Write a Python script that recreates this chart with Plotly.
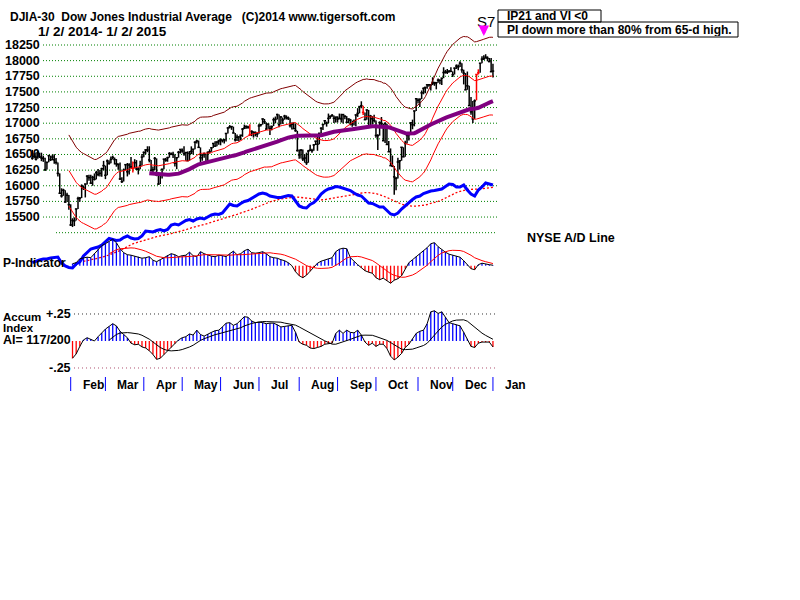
import pandas as pd
import plotly.graph_objects as go

# ---------------- DATA ----------------
close = [16441,16470,16425,16530,16462,16444,16437,16257,16374,16482,
 16418,16459,16415,16374,16198,15880,15838,15929,15739,15849,
 15699,15373,15445,15441,15629,15795,15802,15995,15964,16028,
 16154,16130,16041,16134,16104,16208,16180,16199,16273,16322,
 16168,16396,16361,16422,16453,16419,16351,16341,16109,16066,
 16248,16337,16223,16332,16303,16277,16368,16268,16264,16323,
 16458,16533,16573,16572,16413,16246,16256,16437,16171,16027,
 16174,16263,16425,16409,16449,16514,16502,16501,16361,16448,
 16535,16581,16558,16513,16531,16401,16518,16551,16584,16695,
 16715,16614,16447,16491,16511,16374,16533,16543,16606,16676,
 16633,16698,16717,16743,16722,16738,16836,16924,16944,16946,
 16844,16735,16776,16781,16808,16906,16921,16947,16937,16818,
 16868,16846,16851,16827,16956,16976,17068,17024,16906,16985,
 16915,16944,17055,17061,17138,16977,17100,17052,17113,17087,
 17083,16961,16983,16913,16881,16563,16493,16569,16429,16443,
 16369,16554,16570,16561,16652,16713,16663,16839,16919,16979,
 17039,17001,17077,17107,17122,17079,17098,17067,17078,17069,
 17138,17111,17014,17068,17049,16988,17032,17132,17157,17266,
 17280,17173,17056,17211,16946,17113,17071,17043,16804,16801,
 17009,16992,16720,16994,16660,16544,16321,16316,16142,16117,
 16380,16400,16615,16462,16677,16805,16818,17006,16975,17196,
 17391,17366,17384,17485,17555,17573,17614,17615,17612,17652,
 17635,17648,17688,17686,17720,17810,17818,17815,17828,17828,
 17777,17880,17913,17900,17959,17853,17801,17533,17597,17281,
 17181,17069,17357,17779,17805,17959,18024,18030,18054,18038,
 17984,17823,17833]

high = [16573,16518,16532,16562,16528,16529,16481,16446,16384,16492,
 16481,16497,16505,16445,16373,16198,15960,15952,15929,15889,
 15852,15704,15481,15494,15634,15825,15821,16022,16005,16029,
 16167,16177,16176,16159,16197,16239,16268,16251,16289,16398,
 16322,16420,16407,16467,16482,16452,16427,16356,16371,16135,
 16275,16342,16364,16361,16461,16387,16425,16410,16294,16400,
 16508,16546,16582,16631,16631,16413,16307,16459,16437,16166,
 16196,16273,16430,16445,16464,16538,16532,16544,16501,16458,
 16557,16581,16594,16632,16532,16549,16555,16630,16584,16711,
 16736,16723,16613,16496,16532,16511,16549,16583,16617,16680,
 16710,16713,16735,16747,16740,16738,16845,16934,16970,16950,
 16945,16844,16821,16786,16810,16922,16978,16963,16959,16984,
 16886,16872,16867,16853,16993,16984,17074,17068,17014,16994,
 16965,16964,17089,17107,17151,17140,17113,17091,17134,17125,
 17107,17078,17011,17014,16989,16878,16579,16586,16580,16504,
 16529,16573,16654,16592,16669,16716,16815,16840,16936,16987,
 17052,17026,17154,17124,17147,17122,17100,17111,17154,17151,
 17138,17128,17113,17071,17069,17041,17061,17138,17240,17269,
 17350,17280,17173,17218,17211,17133,17113,17136,17043,16824,
 17029,17099,16991,17014,16992,16715,16597,16483,16315,16140,
 16448,16411,16615,16615,16721,16820,16820,17008,17057,17198,
 17395,17395,17392,17523,17573,17576,17614,17625,17614,17734,
 17662,17658,17715,17700,17723,17894,17852,17866,17851,17895,
 17828,17889,17940,17940,17992,17957,17855,17801,17826,17597,
 17418,17355,17380,17779,17861,17959,18069,18086,18103,18069,
 18043,18044,17951]

low = [16416,16439,16405,16430,16444,16393,16382,16237,16260,16376,
 16395,16406,16352,16340,16150,15873,15811,15839,15733,15743,
 15617,15357,15340,15356,15443,15630,15743,15803,15932,15813,
 16021,16080,16040,16000,16084,16102,16154,16147,16143,16246,
 16106,16169,16336,16361,16421,16339,16305,16255,16094,16045,
 16068,16247,16149,16180,16284,16212,16278,16253,16181,16264,
 16324,16457,16503,16537,16374,16227,16190,16253,16153,16015,
 16027,16115,16263,16384,16384,16449,16492,16445,16307,16265,
 16449,16514,16526,16480,16398,16397,16401,16506,16498,16584,
 16675,16605,16371,16400,16446,16353,16374,16515,16543,16606,
 16626,16633,16657,16647,16692,16676,16709,16836,16917,16894,
 16838,16707,16715,16707,16730,16782,16906,16910,16910,16797,
 16793,16770,16790,16775,16831,16947,16977,16988,16893,16910,
 16812,16887,16954,16998,17059,16936,16983,16989,17056,17059,
 17050,16933,16898,16912,16863,16547,16433,16437,16395,16369,
 16333,16368,16554,16527,16561,16651,16559,16663,16839,16893,
 16979,16945,17002,17071,17103,17003,17013,17010,17061,17013,
 16995,17065,17006,16998,16965,16945,16963,16952,17101,17157,
 17239,17130,17054,17055,16938,16946,16979,17013,16769,16572,
 16801,16954,16717,16683,16660,16538,16321,16298,15855,15930,
 16118,16259,16400,16460,16464,16677,16725,16818,16903,16950,
 17196,17313,17260,17385,17462,17479,17550,17582,17524,17610,
 17597,17541,17646,17621,17610,17720,17792,17785,17811,17821,
 17738,17778,17867,17847,17900,17807,17620,17531,17534,17280,
 17136,17005,17069,17365,17779,17806,17960,18011,18031,17990,
 17983,17820,17731]

red_bars = [55, 119, 181, 243, 244]

month_labels = ["Feb", "Mar", "Apr", "May", "Jun", "Jul", "Aug", "Sep", "Oct", "Nov", "Dec", "Jan"]
month_start = [21, 40, 61, 82, 103, 124, 146, 167, 188, 211, 230, 252]

price_ticks = [18250, 18000, 17750, 17500, 17250, 17000, 16750, 16500, 16250, 16000, 15750, 15500]
price_tick_labels = ["18250", "18000", "17750", "17500", "17250", "17000", "16750", "16500",
                     "16250", "16000", "15750", "15500"]
extra_grid = [15250]

# NYSE A/D line (relative units), sampled every 2 trading days
ad_idx = list(range(0, 253, 2))
ad_line = [7.3, 9, 10, 11, 11, 12, 12.5, 13, 7, 4,
           2.5, 2, 6, 8, 14, 18, 21, 22, 23, 25,
           28, 31.5, 30.5, 29.5, 30, 32.5, 34, 32, 31, 31.5,
           34, 39, 38.5, 38, 39.5, 40.5, 39, 40.5, 45, 46,
           45, 47.5, 49.5, 50.5, 49, 51, 52, 51, 53, 55,
           56, 55.5, 57, 61, 66, 64.5, 64, 66.5, 68.5, 69.5,
           71.5, 74, 76, 77, 76, 74, 73, 72.5, 72.5, 73.5,
           74.5, 74, 69, 64, 62.5, 62, 65.5, 67.5, 71, 76,
           79, 81, 82, 83.5, 83, 82, 81, 79.5, 77, 75,
           74, 70, 67, 66.5, 65, 63, 63, 59, 56, 55,
           57, 61, 64.5, 67, 70.5, 73, 74, 76.5, 78, 79,
           79.5, 80, 81, 83.5, 86, 85.5, 83, 83, 85, 80,
           76, 74, 80, 83, 87, 86, 85]

# P-Indicator and Accumulation Index, sampled every 2 trading days
ind_idx = list(range(22, 253, 2))
p_ind = [2, 3, 7, 8, 8.5, 8, 12, 17, 20, 22,
         24, 26.5, 23, 17, 13, 11, 10.5, 9.5, 9, 7.5,
         8, 9, 5.5, 4, 6, 8, 10.5, 12, 11, 9,
         10, 10.5, 13.5, 10, 9, 14, 12, 10.5, 9.5, 9,
         10.5, 10, 9, 12, 14.5, 11, 12, 15, 16.5, 13,
         12.5, 13, 14, 12, 9, 8, 7.5, 6, 5, 3,
         0, -6, -10, -12, -9.5, -5.5, -2, 2.5, 4.5, 5.5,
         6.5, 8, 14, 16.5, 17.5, 17, 8, 4, 1, -2,
         -5, -6.5, -7.5, -12, -14, -12.5, -15, -17.5, -14.5, -13,
         -10, -3, 3, 6, 9, 12, 15, 18, 22, 23,
         19, 16, 13.5, 11.5, 10.5, 9.5, 8.5, 5, 1, -3,
         -4, 1, 2.5, 1.5, 1, 0.5]
accum = [-0.16, -0.12, -0.05, 0.01, 0.03, 0.015, 0.0, 0.04, 0.075, 0.11,
         0.135, 0.16, 0.14, 0.09, 0.06, 0.03, -0.02, -0.035, -0.03, -0.055,
         -0.065, -0.09, -0.125, -0.17, -0.16, -0.125, -0.09, -0.06, -0.025, 0.01,
         0.03, 0.04, 0.065, 0.055, 0.1, 0.06, 0.045, 0.065, 0.08, 0.095,
         0.1, 0.13, 0.165, 0.17, 0.145, 0.16, 0.195, 0.225, 0.22, 0.185,
         0.17, 0.175, 0.17, 0.16, 0.165, 0.165, 0.15, 0.13, 0.135, 0.14,
         0.145, 0.08, -0.01, -0.03, -0.04, -0.065, -0.07, -0.06, -0.05, -0.03,
         -0.025, -0.02, 0.07, 0.1, 0.07, 0.1, 0.08, 0.075, 0.1, 0.055,
         -0.01, -0.04, -0.02, -0.05, -0.03, -0.03, -0.07, -0.14, -0.175, -0.15,
         -0.115, -0.06, -0.03, 0.02, 0.07, 0.09, 0.1, 0.16, 0.27, 0.28,
         0.255, 0.27, 0.22, 0.17, 0.16, 0.15, 0.14, 0.08, 0.02, -0.05,
         -0.06, -0.02, -0.01, -0.01, -0.01, -0.055]
ai_ticks = [0.25, -0.25]
ai_tick_labels = ["+.25", "-.25"]

signal_idx = 247
signal_text = "S7"
box_texts = ["IP21 and VI &lt;0", "PI down more than 80% from 65-d high."]

# ---------------- DERIVED (moving averages of the data) ----------------
c = pd.Series(close, dtype=float)
ma21 = c.rolling(21).mean()
band_up = ma21 * 1.035
band_dn = ma21 * 0.965
ma65 = c.rolling(65).mean()
ad_ma = pd.Series(ad_line).rolling(15).mean()
pi_ma = pd.Series(p_ind).rolling(11).mean()
ai_ma = pd.Series(accum).rolling(11).mean()
days = list(range(len(close)))


def nan2none(s):
    return [None if pd.isna(v) else v for v in s]


# ---------------- helpers for pixel placement ----------------
W, H = 800, 600
def px(x):
    return x / W
def py(y):
    return 1 - y / H

FONT = "Liberation Sans, Arial, sans-serif"

fig = go.Figure()

# price bars
def bar_segments(idx_list):
    xs, ys = [], []
    for i in idx_list:
        xs += [i, i, None, i - 0.7, i + 0.7, None]
        ys += [low[i], high[i], None, close[i], close[i], None]
    return xs, ys

black_idx = [i for i in days if i not in red_bars]
bx, by = bar_segments(black_idx)
rx, ry = bar_segments(red_bars)
fig.add_trace(go.Scatter(x=bx, y=by, mode="lines", line=dict(color="black", width=1.5),
                         hoverinfo="skip"))
fig.add_trace(go.Scatter(x=rx, y=ry, mode="lines", line=dict(color="#ff0000", width=1.5),
                         hoverinfo="skip"))

# bands and moving averages
fig.add_trace(go.Scatter(x=days, y=nan2none(band_up), mode="lines",
                         line=dict(color="#800000", width=1)))
fig.add_trace(go.Scatter(x=days, y=nan2none(band_dn), mode="lines",
                         line=dict(color="#ff0000", width=1)))
fig.add_trace(go.Scatter(x=days, y=nan2none(ma21), mode="lines",
                         line=dict(color="#ff0000", width=1)))
fig.add_trace(go.Scatter(x=days, y=nan2none(ma65), mode="lines",
                         line=dict(color="#800080", width=4)))

# A/D line
fig.add_trace(go.Scatter(x=ad_idx, y=nan2none(ad_ma), mode="lines", yaxis="y2",
                         line=dict(color="#ff0000", width=1.3, dash="2px,2px")))
fig.add_trace(go.Scatter(x=ad_idx, y=ad_line, mode="lines", yaxis="y2",
                         line=dict(color="#0000ff", width=3)))


def hist_traces(values, axis, ma, ma_color):
    pxs, pys, nxs, nys = [], [], [], []
    for i, v in zip(ind_idx, values):
        if v >= 0:
            pxs += [i, i, None]; pys += [0, v, None]
        else:
            nxs += [i, i, None]; nys += [0, v, None]
    fig.add_trace(go.Scatter(x=pxs, y=pys, mode="lines", yaxis=axis,
                             line=dict(color="#0000ff", width=1.3)))
    fig.add_trace(go.Scatter(x=nxs, y=nys, mode="lines", yaxis=axis,
                             line=dict(color="#ff0000", width=1.3)))
    fig.add_trace(go.Scatter(x=ind_idx, y=values, mode="lines", yaxis=axis,
                             line=dict(color="black", width=1)))
    fig.add_trace(go.Scatter(x=ind_idx, y=nan2none(ma), mode="lines", yaxis=axis,
                             line=dict(color=ma_color, width=1)))

hist_traces(p_ind, "y3", pi_ma, "#ff0000")
hist_traces(accum, "y4", ai_ma, "black")

# ---------------- shapes ----------------
shapes = []
for lv in price_ticks:
    shapes.append(dict(type="line", xref="paper", yref="y", x0=px(43), x1=px(497), y0=lv, y1=lv,
                       line=dict(color="#008000", width=1, dash="1px,2px"), layer="below"))
for lv in extra_grid:
    shapes.append(dict(type="line", xref="paper", yref="y", x0=px(56), x1=px(497), y0=lv, y1=lv,
                       line=dict(color="#008000", width=1, dash="1px,2px"), layer="below"))
for lv, col in zip(ai_ticks, ["#333333", "#b05070"]):
    shapes.append(dict(type="line", xref="paper", yref="y4", x0=px(74), x1=px(497), y0=lv, y1=lv,
                       line=dict(color=col, width=1, dash="1px,3px"), layer="below"))
for ms in month_start:
    shapes.append(dict(type="line", xref="x", yref="paper", x0=ms, x1=ms, y0=py(391), y1=py(377),
                       line=dict(color="#0000ff", width=1)))
# signal boxes
shapes.append(dict(type="rect", xref="paper", yref="paper", x0=px(498), x1=px(601), y0=py(22), y1=py(10),
                   line=dict(color="black", width=1)))
shapes.append(dict(type="rect", xref="paper", yref="paper", x0=px(498), x1=px(738), y0=py(37), y1=py(22),
                   line=dict(color="black", width=1)))

# ---------------- annotations ----------------
ann = []
def text(x, y, t, size=12, anchor="left", weight="bold", xref="paper", xshift=0, height=None):
    d = dict(x=x, y=y, xref=xref, yref="paper", text=t, showarrow=False,
             xanchor=anchor, yanchor="middle", xshift=xshift, borderpad=0,
             font=dict(family=FONT, size=size, color="black", weight=weight))
    if height:
        d["height"] = height
    ann.append(d)

nb = "\u00a0"
text(px(9), py(16.7), "DJIA-30" + nb * 2 + "Dow Jones Industrial Average" + nb * 3 + "(C)2014 www.tigersoft.com")
text(px(37), py(31.3), "1/" + nb + "2/" + nb + "2014-" + nb + "1/" + nb + "2/" + nb + "2015", size=13.5)
for lv, lab in zip(price_ticks, price_tick_labels):
    ann.append(dict(x=px(41), y=lv, xref="paper", yref="y", text=lab, showarrow=False,
                    xanchor="right", yanchor="middle", borderpad=0,
                    font=dict(family=FONT, size=12.5, color="black", weight="bold")))
for lv, lab in zip(ai_ticks, ai_tick_labels):
    ann.append(dict(x=px(72), y=lv, xref="paper", yref="y4", text=lab, showarrow=False,
                    xanchor="right", yanchor="middle", borderpad=0,
                    font=dict(family=FONT, size=12.5, color="black", weight="bold")))
text(px(2), py(262.5), "P-Indicator")
text(px(2), py(316.5), "Accum", size=11.5, height=10)
text(px(2), py(328), "Index", size=11.5, height=10)
text(px(2), py(339.5), "AI= 117/200", size=12.5, height=10)
text(px(526), py(238), "NYSE A/D Line", size=12.5)
text(px(506), py(16), box_texts[0], height=11)
text(px(506), py(29.5), box_texts[1], height=12)
for ms, lab in zip(month_start, month_labels):
    text(ms, py(385), lab, xref="x", xshift=11)
# signal
text(signal_idx, py(21.5), signal_text, size=15, anchor="center", weight="normal", xref="x", xshift=2,
     height=11)
ann.append(dict(x=signal_idx, y=py(36), xref="x", yref="paper", text="", showarrow=True,
                ax=0, ay=-8, arrowhead=2, arrowsize=0.7, arrowwidth=3, arrowcolor="#ff00ff"))

# ---------------- layout ----------------
def yax(rng, overlay=True):
    d = dict(range=rng, visible=False, fixedrange=True, showgrid=False, zeroline=False)
    if overlay:
        d["overlaying"] = "y"
    return d

fig.update_layout(
    width=W, height=H, margin=dict(l=0, r=0, t=0, b=0),
    paper_bgcolor="white", plot_bgcolor="white", showlegend=False,
    xaxis=dict(range=[-17.67, 419.97], visible=False, fixedrange=True, showgrid=False, zeroline=False),
    yaxis=yax([9378.5, 18969.3], overlay=False),
    yaxis2=yax([-330, 270]),
    yaxis3=yax([-334.3, 265.7]),
    yaxis4=yax([-2.398, 3.157]),
    shapes=shapes, annotations=ann,
)

fig.write_html("out.html")
